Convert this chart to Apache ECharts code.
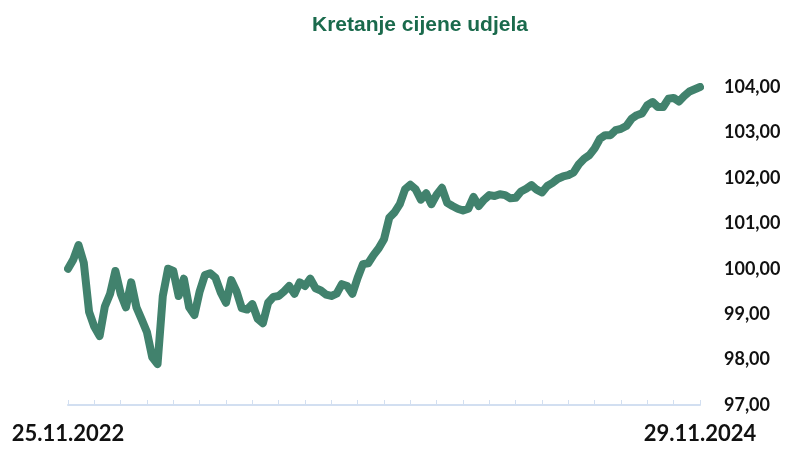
<!DOCTYPE html>
<html>
<head>
<meta charset="utf-8">
<script src="https://cdn.jsdelivr.net/npm/echarts@6/dist/echarts.min.js"></script>
<style>
html,body{margin:0;padding:0;background:#fff;}
#c{width:794px;height:450px;}
</style>
</head>
<body>
<div id="c"></div>
<script>
const titleText = 'Kretanje cijene udjela';
const startDate = '25.11.2022';
const endDate = '29.11.2024';
const totalDays = 735;

const prices = [
100.0, 100.2, 100.52, 100.13, 99.05, 98.72, 98.52, 99.17, 99.45, 99.95,
99.45, 99.15, 99.7, 99.15, 98.88, 98.6, 98.05, 97.9, 99.4, 100.0,
99.95, 99.4, 99.78, 99.15, 98.98, 99.5, 99.86, 99.9, 99.8, 99.48,
99.25, 99.75, 99.5, 99.13, 99.1, 99.22, 98.9, 98.8, 99.25, 99.38,
99.4, 99.5, 99.62, 99.45, 99.7, 99.62, 99.78, 99.57, 99.52, 99.43,
99.4, 99.45, 99.66, 99.62, 99.45, 99.8, 100.1, 100.12, 100.3, 100.45,
100.65, 101.12, 101.24, 101.42, 101.75, 101.85, 101.75, 101.52, 101.66, 101.42,
101.63, 101.78, 101.45, 101.38, 101.32, 101.28, 101.32, 101.58, 101.38, 101.52,
101.62, 101.6, 101.64, 101.62, 101.55, 101.56, 101.7, 101.76, 101.84, 101.74,
101.68, 101.82, 101.89, 101.98, 102.03, 102.06, 102.12, 102.3, 102.42, 102.5,
102.65, 102.86, 102.94, 102.94, 103.05, 103.08, 103.14, 103.3, 103.38, 103.42,
103.6, 103.67, 103.56, 103.56, 103.74, 103.76, 103.68, 103.8, 103.9, 103.95,
104.0
];

const yMin = 97, yMax = 104, yStep = 1;

function fmt(d){
  const dd = String(d.getDate()).padStart(2,'0');
  const mm = String(d.getMonth()+1).padStart(2,'0');
  return dd + '.' + mm + '.' + d.getFullYear();
}
const n = prices.length;
const categories = [];
const base = new Date(2022, 10, 25);
for (let i = 0; i < n; i++) {
  const d = new Date(base.getTime());
  d.setDate(d.getDate() + Math.round(i * totalDays / (n - 1)));
  categories.push(fmt(d));
}
categories[0] = startDate;
categories[n-1] = endDate;

const chart = echarts.init(document.getElementById('c'));
chart.setOption({
  animation: false,
  backgroundColor: '#ffffff',
  title: {
    text: titleText,
    left: 307,
    top: 10,
    textStyle: { color: '#1a6a4c', fontSize: 21, fontWeight: 'bold', fontFamily: 'Liberation Sans, Arial, sans-serif' }
  },
  grid: { left: 68, right: 94, top: 87, bottom: 45, containLabel: false },
  xAxis: {
    type: 'category',
    data: categories,
    boundaryGap: false,
    axisLine: { show: true, lineStyle: { color: '#d2dff1', width: 2 } },
    axisTick: { show: true, inside: true, length: 5, interval: 4, lineStyle: { color: '#d2dff1', width: 1 } },
    axisLabel: {
      interval: function (idx) { return idx === 0 || idx === n - 1; },
      color: '#111111',
      fontFamily: 'Lato, sans-serif',
      fontWeight: 'bold',
      fontSize: 22,
      margin: 18,
      showMinLabel: true,
      showMaxLabel: true
    },
    splitLine: { show: false }
  },
  yAxis: {
    type: 'value',
    position: 'right',
    min: yMin,
    max: yMax,
    interval: yStep,
    axisLine: { show: false },
    axisTick: { show: false },
    splitLine: { show: false },
    axisLabel: {
      color: '#111111',
      fontFamily: 'Lato, sans-serif',
      fontWeight: 'bold',
      fontSize: 18,
      margin: 24,
      align: 'left',
      formatter: function (v) { return v.toFixed(2).replace('.', ','); }
    }
  },
  series: [{
    type: 'line',
    data: prices,
    showSymbol: false,
    symbol: 'none',
    smooth: false,
    lineStyle: { color: '#41826d', width: 8, join: 'round', cap: 'round' }
  }]
});
</script>
</body>
</html>
